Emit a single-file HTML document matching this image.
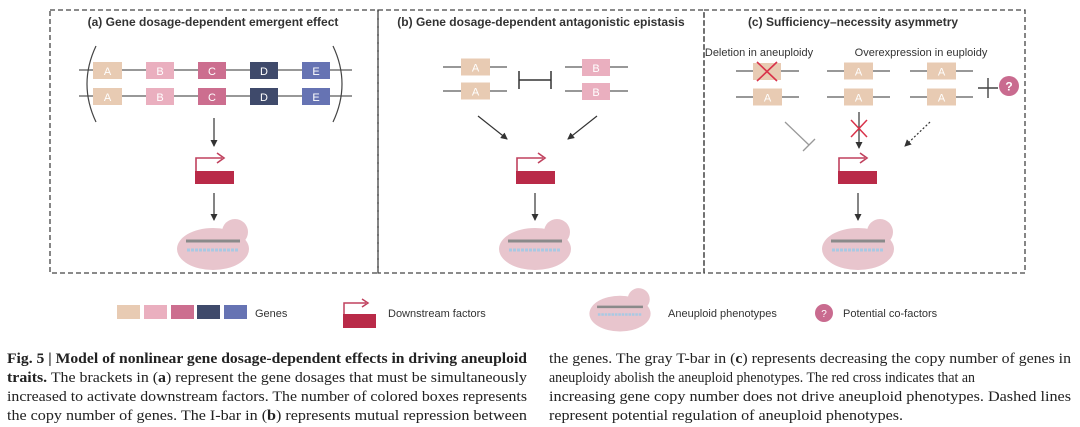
<!DOCTYPE html>
<html><head><meta charset="utf-8"><style>
html,body{margin:0;padding:0;background:#fff;}
svg{display:block;}
.t{font-family:"Liberation Sans",sans-serif;}
.s{font-family:"Liberation Serif",serif;font-size:15px;fill:#222;}
</style></head><body>
<svg width="1080" height="427" viewBox="0 0 1080 427" xmlns="http://www.w3.org/2000/svg">
<defs>
<marker id="ah" markerWidth="8" markerHeight="8" refX="6" refY="4" orient="auto" markerUnits="userSpaceOnUse"><path d="M0,0.5 L7,4 L0,7.5 z" fill="#333"/></marker>
<g id="prom">
  <path d="M-19,171 V158 H7" fill="none" stroke="#c0415e" stroke-width="1.6"/>
  <path d="M2,153 L9,158 L2,163" fill="none" stroke="#c0415e" stroke-width="1.6"/>
  <rect x="-20" y="171" width="39" height="13" fill="#b92a48"/>
</g>
<g id="cell">
  <circle cx="22" cy="232" r="13" fill="#e8c5cd"/>
  <ellipse cx="0" cy="249" rx="36" ry="21" fill="#e8c5cd"/>
  <line x1="-27" y1="241" x2="27" y2="241" stroke="#8a8a8a" stroke-width="3"/>
  <line x1="-26" y1="250" x2="26" y2="250" stroke="#a9c9e3" stroke-width="3" stroke-dasharray="3,1"/>
</g>
<g id="gA"><rect x="0" y="-8.5" width="29" height="17" fill="#e8cbb3"/><text x="14.5" y="4.5" text-anchor="middle" class="t" font-size="11" fill="#fff">A</text></g>
</defs>

<g fill="none" stroke="#444" stroke-width="1.3" stroke-dasharray="5,3">
<rect x="50" y="10" width="328" height="263"/>
<rect x="378" y="10" width="326" height="263"/>
<rect x="704" y="10" width="321" height="263"/>
</g>
<text x="213" y="26" text-anchor="middle" class="t" font-size="12" font-weight="bold" fill="#333">(a) Gene dosage-dependent emergent effect</text>
<text x="541" y="26" text-anchor="middle" class="t" font-size="12" font-weight="bold" fill="#333">(b) Gene dosage-dependent antagonistic epistasis</text>
<text x="853" y="26" text-anchor="middle" class="t" font-size="12" font-weight="bold" fill="#333">(c) Sufficiency–necessity asymmetry</text>

<g stroke="#777" stroke-width="1.5"><line x1="79" y1="70" x2="352" y2="70"/><line x1="79" y1="96" x2="352" y2="96"/></g>
<path d="M96,46 Q78,84 96,122" fill="none" stroke="#444" stroke-width="1.2"/>
<path d="M333,46 Q351,84 333,122" fill="none" stroke="#444" stroke-width="1.2"/>
<g class="t" font-size="11" fill="#fff" text-anchor="middle">
<rect x="93" y="62" width="29" height="17" fill="#e8cbb3"/><text x="107.5" y="75">A</text>
<rect x="146" y="62" width="28" height="17" fill="#eaafbf"/><text x="160" y="75">B</text>
<rect x="198" y="62" width="28" height="17" fill="#cc6e8f"/><text x="212" y="75">C</text>
<rect x="250" y="62" width="28" height="17" fill="#3f4a6b"/><text x="264" y="75">D</text>
<rect x="302" y="62" width="28" height="17" fill="#6673b3"/><text x="316" y="75">E</text>
<rect x="93" y="88" width="29" height="17" fill="#e8cbb3"/><text x="107.5" y="101">A</text>
<rect x="146" y="88" width="28" height="17" fill="#eaafbf"/><text x="160" y="101">B</text>
<rect x="198" y="88" width="28" height="17" fill="#cc6e8f"/><text x="212" y="101">C</text>
<rect x="250" y="88" width="28" height="17" fill="#3f4a6b"/><text x="264" y="101">D</text>
<rect x="302" y="88" width="28" height="17" fill="#6673b3"/><text x="316" y="101">E</text>
</g>
<line x1="214" y1="118" x2="214" y2="146" stroke="#333" stroke-width="1.2" marker-end="url(#ah)"/>
<use href="#prom" x="215"/>
<line x1="214" y1="193" x2="214" y2="220" stroke="#333" stroke-width="1.2" marker-end="url(#ah)"/>
<use href="#cell" x="213"/>

<g stroke="#777" stroke-width="1.5"><line x1="443" y1="67" x2="507" y2="67"/><line x1="443" y1="91" x2="507" y2="91"/><line x1="565" y1="67" x2="628" y2="67"/><line x1="565" y1="91" x2="628" y2="91"/></g>
<use href="#gA" x="461" y="67"/><use href="#gA" x="461" y="91"/>
<g class="t" font-size="11" fill="#fff" text-anchor="middle">
<rect x="582" y="59" width="28" height="17" fill="#eaafbf"/><text x="596" y="72">B</text>
<rect x="582" y="83" width="28" height="17" fill="#eaafbf"/><text x="596" y="96">B</text>
</g>
<g stroke="#333" stroke-width="1.5"><line x1="519" y1="80" x2="551" y2="80"/><line x1="519" y1="71" x2="519" y2="89"/><line x1="551" y1="71" x2="551" y2="89"/></g>
<line x1="478" y1="116" x2="507" y2="139" stroke="#333" stroke-width="1.2" marker-end="url(#ah)"/>
<line x1="597" y1="116" x2="568" y2="139" stroke="#333" stroke-width="1.2" marker-end="url(#ah)"/>
<use href="#prom" x="536"/>
<line x1="535" y1="193" x2="535" y2="220" stroke="#333" stroke-width="1.2" marker-end="url(#ah)"/>
<use href="#cell" x="535"/>

<text x="759" y="56" text-anchor="middle" class="t" font-size="11" fill="#333">Deletion in aneuploidy</text>
<text x="921" y="56" text-anchor="middle" class="t" font-size="11" fill="#333">Overexpression in euploidy</text>
<g stroke="#777" stroke-width="1.5">
<line x1="736" y1="71" x2="799" y2="71"/><line x1="736" y1="97" x2="799" y2="97"/>
<line x1="827" y1="71" x2="890" y2="71"/><line x1="827" y1="97" x2="890" y2="97"/>
<line x1="910" y1="71" x2="973" y2="71"/><line x1="910" y1="97" x2="973" y2="97"/>
</g>
<rect x="753" y="63" width="28" height="17" fill="#e8cbb3"/>
<g stroke="#d9324a" stroke-width="1.6"><line x1="757" y1="62" x2="777" y2="81"/><line x1="777" y1="62" x2="757" y2="81"/></g>
<use href="#gA" x="753" y="97"/>
<use href="#gA" x="844" y="71"/><use href="#gA" x="844" y="97"/>
<use href="#gA" x="927" y="71"/><use href="#gA" x="927" y="97"/>
<g stroke="#444" stroke-width="1.4"><line x1="978" y1="88" x2="998" y2="88"/><line x1="988" y1="78" x2="988" y2="98"/></g>
<circle cx="1009" cy="86" r="10" fill="#c96b8f"/>
<text x="1009" y="90.5" text-anchor="middle" class="t" font-size="12" font-weight="bold" fill="#fff">?</text>
<g stroke="#999" stroke-width="1.3"><line x1="785" y1="122" x2="809" y2="145"/><line x1="803" y1="151" x2="815" y2="139"/></g>
<line x1="859" y1="112" x2="859" y2="148" stroke="#333" stroke-width="1.2" marker-end="url(#ah)"/>
<g stroke="#d9324a" stroke-width="1.5"><line x1="851" y1="120" x2="867" y2="137"/><line x1="867" y1="120" x2="851" y2="137"/></g>
<line x1="930" y1="122" x2="905" y2="146" stroke="#333" stroke-width="1.2" stroke-dasharray="2,2" marker-end="url(#ah)"/>
<use href="#prom" x="858"/>
<line x1="858" y1="193" x2="858" y2="220" stroke="#333" stroke-width="1.2" marker-end="url(#ah)"/>
<use href="#cell" x="858"/>

<rect x="117" y="305" width="23" height="14" fill="#e8cbb3"/>
<rect x="144" y="305" width="23" height="14" fill="#eaafbf"/>
<rect x="171" y="305" width="23" height="14" fill="#cc6e8f"/>
<rect x="197" y="305" width="23" height="14" fill="#3f4a6b"/>
<rect x="224" y="305" width="23" height="14" fill="#6673b3"/>
<text x="255" y="317" class="t" font-size="11" fill="#333">Genes</text>
<path d="M344,314 V303 H366" fill="none" stroke="#c0415e" stroke-width="1.5"/>
<path d="M362,299 L368,303 L362,307" fill="none" stroke="#c0415e" stroke-width="1.5"/>
<rect x="343" y="314" width="33" height="14" fill="#b92a48"/>
<text x="388" y="317" class="t" font-size="11" fill="#333">Downstream factors</text>
<g transform="translate(620,102) scale(0.85)"><use href="#cell"/></g>
<text x="668" y="317" class="t" font-size="11" fill="#333">Aneuploid phenotypes</text>
<circle cx="824" cy="313" r="9" fill="#c96b8f"/>
<text x="824" y="317" text-anchor="middle" class="t" font-size="10" fill="#fff">?</text>
<text x="843" y="317" class="t" font-size="11" fill="#333">Potential co-factors</text>

<text x="7" y="363" class="s" font-weight="bold" textLength="520" lengthAdjust="spacingAndGlyphs">Fig. 5 | Model of nonlinear gene dosage-dependent effects in driving aneuploid</text>
<text x="7" y="382" class="s" textLength="520" lengthAdjust="spacingAndGlyphs"><tspan font-weight="bold">traits.</tspan> The brackets in (<tspan font-weight="bold">a</tspan>) represent the gene dosages that must be simultaneously</text>
<text x="7" y="401" class="s" textLength="520" lengthAdjust="spacingAndGlyphs">increased to activate downstream factors. The number of colored boxes represents</text>
<text x="7" y="420" class="s" textLength="520" lengthAdjust="spacingAndGlyphs">the copy number of genes. The I-bar in (<tspan font-weight="bold">b</tspan>) represents mutual repression between</text>
<text x="549" y="363" class="s" textLength="522" lengthAdjust="spacingAndGlyphs">the genes. The gray T-bar in (<tspan font-weight="bold">c</tspan>) represents decreasing the copy number of genes in</text>
<text x="549" y="382" class="s" textLength="426" lengthAdjust="spacingAndGlyphs">aneuploidy abolish the aneuploid phenotypes. The red cross indicates that an</text>
<text x="549" y="401" class="s" textLength="522" lengthAdjust="spacingAndGlyphs">increasing gene copy number does not drive aneuploid phenotypes. Dashed lines</text>
<text x="549" y="420" class="s" textLength="354" lengthAdjust="spacingAndGlyphs">represent potential regulation of aneuploid phenotypes.</text>
</svg>
</body></html>
